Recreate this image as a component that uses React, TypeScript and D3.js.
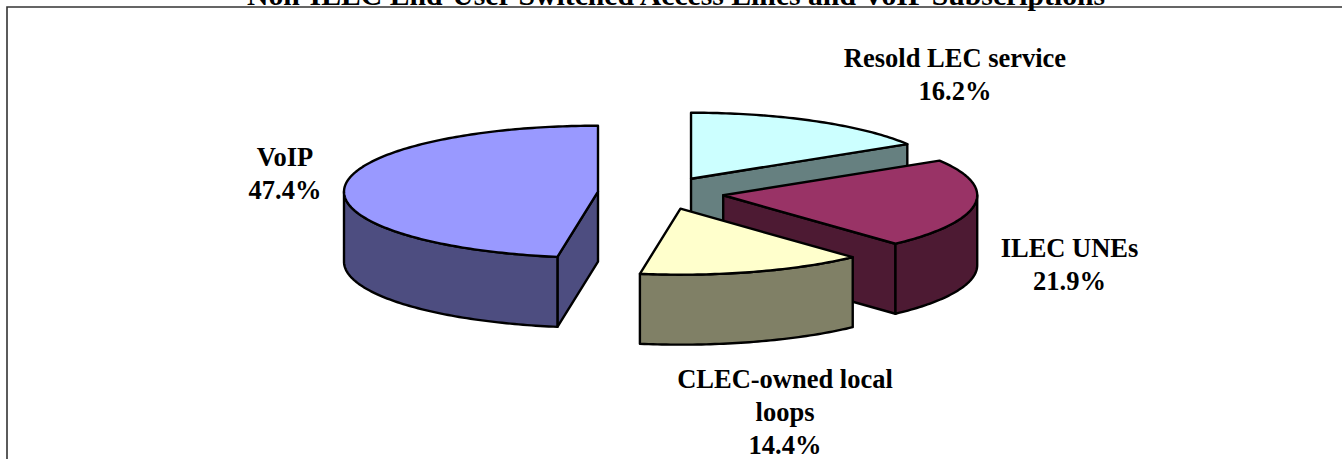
import React from "react";
import * as d3 from "d3";

const TITLE = "Non-ILEC End-User Switched Access Lines and VoIP Subscriptions";
const categories = ["Resold LEC service", "ILEC UNEs", "CLEC-owned local loops", "VoIP"];
const values = [16.2, 21.9, 14.4, 47.4];
const topColors = ["#CCFFFF", "#993366", "#FFFFCC", "#9999FF"];
const wallColors = ["#668080", "#4D1A33", "#808066", "#4D4D80"];
const labelLines = [["Resold LEC service", "16.2%"], ["ILEC UNEs", "21.9%"], ["CLEC-owned local", "loops", "14.4%"], ["VoIP", "47.4%"]];
const labelAnchors: [number, number][] = [[955, 67], [1069.5, 257], [785, 388], [285, 166]];
const sliceNudgeX = [-0.5, 0, 1.5, 0];
const paintOrder = [0, 3, 1, 2];

const W = 1342, H = 459;
const CX = 660.8, CY = 193, RX = 254, RY = 66, DEPTH = 70, EXPLODE = 63;
const FONT = "'Liberation Serif', 'Times New Roman', serif";

const pie = d3.pie<number>().sort(null).startAngle(0).endAngle(2 * Math.PI);
const line = d3.line<[number, number]>();

function App() {
  const arcs = pie(values);
  const slices = paintOrder.map((i) => {
    const a = arcs[i];
    const mid = (a.startAngle + a.endAngle) / 2;
    const cx = CX + EXPLODE * Math.sin(mid) + sliceNudgeX[i];
    const cy = CY - EXPLODE * (RY / RX) * Math.cos(mid);
    const pt = (t: number, dz = 0): [number, number] => [cx + RX * Math.sin(t), cy - RY * Math.cos(t) + dz];
    const sample = (s: number, e: number, dz = 0) => {
      const n = Math.max(2, Math.ceil(((e - s) * 180) / Math.PI));
      return d3.range(n + 1).map((k) => pt(s + ((e - s) * k) / n, dz));
    };
    const top = line([[cx, cy], ...sample(a.startAngle, a.endAngle)]) + "Z";
    const walls: string[] = [];
    const c0: [number, number] = [cx, cy];
    const c1: [number, number] = [cx, cy + DEPTH];
    if (Math.sin(a.startAngle) < -1e-6) walls.push(line([c0, pt(a.startAngle), pt(a.startAngle, DEPTH), c1])! + "Z");
    if (Math.sin(a.endAngle) > 1e-6) walls.push(line([c0, pt(a.endAngle), pt(a.endAngle, DEPTH), c1])! + "Z");
    const s = Math.max(a.startAngle, Math.PI / 2);
    const e = Math.min(a.endAngle, (3 * Math.PI) / 2);
    if (e > s) walls.push(line([...sample(s, e), ...sample(s, e, DEPTH).reverse()])! + "Z");
    return { i, top, walls };
  });

  return (
    <svg width={W} height={H} viewBox={`0 0 ${W} ${H}`} style={{ position: "absolute", left: 0, top: 0, display: "block" }}>
      <rect width={W} height={H} fill="#fff" />
      <path d={`M7,${H}V7H${W}`} fill="none" stroke="#333" strokeWidth={1.6} />
      <text x={676} y={5} textAnchor="middle" fontFamily={FONT} fontWeight="bold" fontSize={29.7} fill="#000">{TITLE}</text>
      {slices.map((s) => (
        <g key={categories[s.i]} stroke="#000" strokeWidth={2.4} strokeLinejoin="round">
          {s.walls.map((d, k) => <path key={k} d={d} fill={wallColors[s.i]} />)}
          <path d={s.top} fill={topColors[s.i]} />
        </g>
      ))}
      {labelLines.map((lines, i) => (
        <text key={i} textAnchor="middle" fontFamily={FONT} fontWeight="bold" fontSize={26.5} fill="#000">
          {lines.map((t, k) => <tspan key={k} x={labelAnchors[i][0]} y={labelAnchors[i][1] + k * 33}>{t}</tspan>)}
        </text>
      ))}
    </svg>
  );
}

export default App;
